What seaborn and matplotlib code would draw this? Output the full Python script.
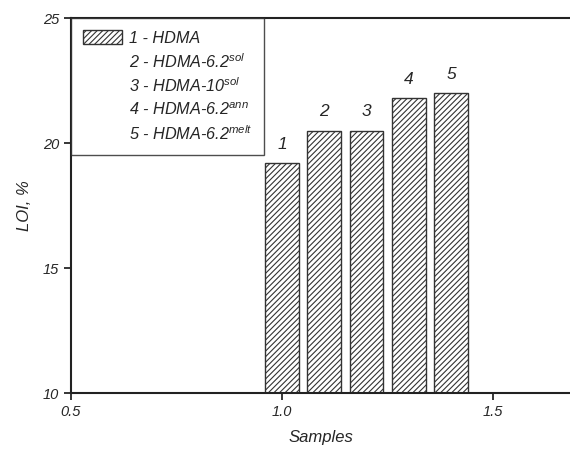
import matplotlib
matplotlib.use("Agg")
import matplotlib.pyplot as plt
from matplotlib.patches import Patch
import seaborn as sns

# data
samples = [1.0, 1.1, 1.2, 1.3, 1.4]
loi = [19.2, 20.5, 20.5, 21.8, 22.0]
bar_labels = ['1', '2', '3', '4', '5']
legend_labels = [
    '1 - HDMA',
    r'2 - HDMA-6.2$^{sol}$',
    r'3 - HDMA-10$^{sol}$',
    r'4 - HDMA-6.2$^{ann}$',
    r'5 - HDMA-6.2$^{melt}$',
]

sns.set_style('ticks')
plt.rcParams['font.family'] = ['Liberation Sans', 'DejaVu Sans']
plt.rcParams['font.style'] = 'italic'
plt.rcParams['mathtext.fontset'] = 'custom'
plt.rcParams['mathtext.it'] = 'Liberation Sans:italic'
plt.rcParams['mathtext.rm'] = 'Liberation Sans:italic'
plt.rcParams['hatch.color'] = '#333333'
plt.rcParams['hatch.linewidth'] = 0.8

fig = plt.figure(figsize=(5.7, 4.49), dpi=100)
ax = fig.add_axes([0.1246, 0.1247, 0.8754, 0.835])

sns.barplot(x=samples, y=loi, native_scale=True, color='white',
            edgecolor='#333333', linewidth=1.0, hatch='//////', ax=ax,
            saturation=1)

# numbers above bars
for xv, yv, lab in zip(samples, loi, bar_labels):
    ax.text(xv, yv + 0.45, lab, ha='center', va='bottom', fontsize=12.5,
            style='italic')

ax.set_xlim(0.5, 1.682)
ax.set_ylim(10, 25)
ax.set_xticks([0.5, 1.0, 1.5])
ax.set_xticklabels(['0.5', '1.0', '1.5'])
ax.set_yticks([10, 15, 20, 25])
ax.tick_params(axis='both', labelsize=10.5, width=1.3, length=5, direction='out')
for lab in ax.get_xticklabels() + ax.get_yticklabels():
    lab.set_style('italic')

ax.set_xlabel('Samples', fontsize=12, style='italic', labelpad=8)
ax.set_ylabel('LOI, %', fontsize=12, style='italic', labelpad=8)

for side in ['left', 'bottom', 'top']:
    ax.spines[side].set_visible(True)
    ax.spines[side].set_linewidth(1.5)
    ax.spines[side].set_color('#222222')
ax.spines['right'].set_visible(False)

handles = [Patch(facecolor='white', edgecolor='#333333', hatch='//////')]
handles += [Patch(facecolor='none', edgecolor='none') for _ in legend_labels[1:]]
leg = ax.legend(handles, legend_labels, loc='upper left', bbox_to_anchor=(0, 1),
                borderaxespad=0, frameon=True, fancybox=False,
                labelspacing=0.38, handlelength=2.4, handleheight=0.9,
                handletextpad=0.4, borderpad=0.75,
                prop={'style': 'italic', 'size': 11.7})
leg.get_frame().set_edgecolor('#222222')
leg.get_frame().set_linewidth(1.0)

fig.savefig('out.png', dpi=100)
